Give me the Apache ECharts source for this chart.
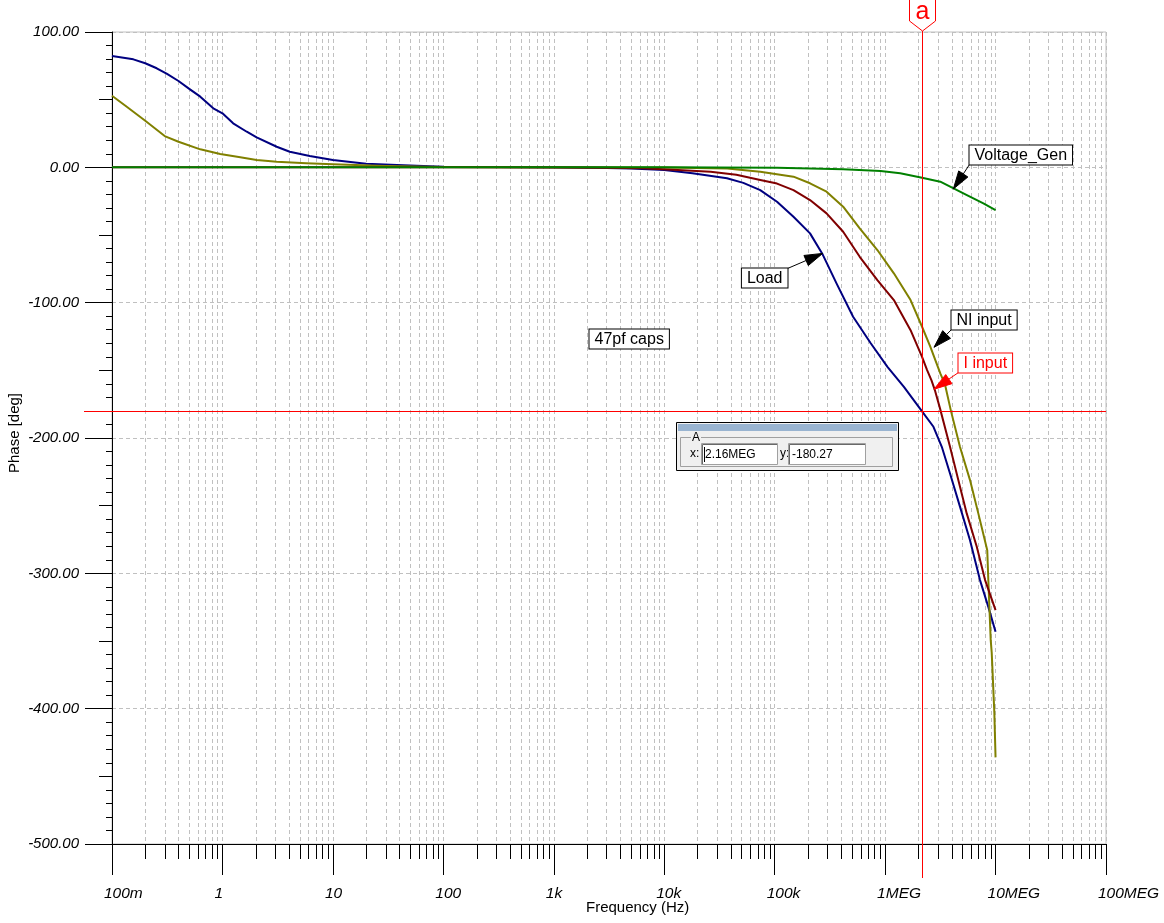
<!DOCTYPE html>
<html><head><meta charset="utf-8">
<script src="https://cdn.jsdelivr.net/npm/echarts/dist/echarts.min.js"></script>
<style>html,body{margin:0;padding:0;background:#fff;} #c{width:1164px;height:923px;}</style>
</head><body><div id="c"></div>
<script>
const FONT = '"Liberation Sans", Arial, sans-serif';

// ---- tick labels ----
const xTickValues = [0.1, 1, 10, 100, 1e3, 1e4, 1e5, 1e6, 1e7, 1e8];
const xTickLabels = ['100m', '1', '10', '100', '1k', '10k', '100k', '1MEG', '10MEG', '100MEG'];

// ---- series: Load (blue) ----
const loadFreq  = [0.1, 0.156, 0.2, 0.254, 0.315, 0.4, 0.508, 0.63, 0.826, 1, 1.25, 1.66, 2.04, 3.1, 4.07, 6.17, 10, 20, 38, 100, 300, 1000, 3000, 5000, 1e4, 1.8e4, 3.7e4, 5.2e4, 7.4e4, 1.05e5, 1.48e5, 2.09e5, 2.69e5, 3.63e5, 5.13e5, 7.41e5, 1.05e6, 1.48e6, 2.16e6, 2.74e6, 3.26e6, 3.87e6, 4.77e6, 5.87e6, 7.23e6, 8.6e6, 1e7];
const loadPhase = [82.3, 79.8, 76.9, 73.2, 69, 63.8, 57.6, 52.2, 43.6, 39.9, 32.5, 26.3, 22.2, 15.2, 11.5, 8.4, 5.4, 2.7, 1.7, 0.5, 0.2, 0, -0.5, -0.9, -2.0, -4.4, -8.1, -11.5, -16.8, -25.4, -36.5, -48.8, -63.6, -85.7, -110.4, -130, -147.4, -162.2, -180.27, -191.7, -206.5, -226.2, -250.9, -275.5, -305, -324.8, -343.2];

// ---- series: I input (maroon) ----
const iinFreq  = [0.1, 100, 1000, 3000, 6400, 1.2e4, 2.63e4, 4.5e4, 7.41e4, 1.05e5, 1.48e5, 2.09e5, 2.95e5, 4.17e5, 5.89e5, 8.51e5, 1.2e6, 1.7e6, 2.16e6, 2.4e6, 2.63e6, 2.82e6, 3.14e6, 3.87e6, 4.6e6, 5.48e6, 6.76e6, 8.04e6, 1e7];
const iinPhase = [0, 0, -0.1, -0.4, -0.7, -1.8, -3.2, -5.5, -9.4, -12, -16.8, -24.2, -34, -47.6, -66.1, -83.3, -98.1, -120.3, -140, -149.8, -157.4, -164.6, -178.1, -206.5, -231.1, -255.7, -280.4, -305, -327.2];

// ---- series: NI input (olive) ----
const niFreq  = [0.1, 0.136, 0.2, 0.3, 0.4, 0.63, 0.955, 1.45, 2.04, 3.1, 5.75, 10, 30, 100, 1000, 1e4, 3.72e4, 7.41e4, 1.48e5, 2.09e5, 2.95e5, 4.17e5, 5.89e5, 8.51e5, 1.2e6, 1.7e6, 2.16e6, 2.57e6, 3.16e6, 3.49e6, 3.93e6, 4.76e6, 5.87e6, 6.98e6, 8.41e6, 8.6e6, 9.04e6, 9.23e6, 9.75e6, 1e7];
const niPhase = [52.9, 44.8, 34.4, 23.1, 18.9, 13.3, 9.8, 7.4, 5.4, 4.1, 3, 2.2, 1, 0.3, 0, -0.2, -0.8, -3.2, -6.9, -11.8, -18, -29.1, -45.1, -61.1, -78.3, -98.1, -117.8, -132.6, -152.3, -160.6, -179.4, -206.5, -231.1, -255.7, -282.9, -305, -349.4, -358.6, -403, -436];

// ---- series: Voltage_Gen (green) ----
const vgFreq  = [0.1, 1e4, 3e4, 1.05e5, 4.17e5, 9.1e5, 1.37e6, 2.16e6, 3.16e6, 4.17e6, 5.5e6, 7.76e6, 1e7];
const vgPhase = [0, 0, -0.1, -0.3, -1.5, -2.7, -4.4, -7.7, -10.6, -15.5, -20.5, -26.6, -31.6];

// ---- cursor ----
const cursorFreq = 2.16e6;
const cursorPhase = -180.27;
const cursorXText = '2.16MEG';
const cursorYText = '-180.27';

// ---- annotations (text, arrow tip in data units, box anchor in data units) ----
const noteTexts = ['Voltage_Gen', 'Load', 'NI input', 'I input', '47pf caps'];
const noteTipFreq = [4.15e6, 2.72e5, 2.77e6, 2.77e6, null];
const noteTipPhase = [-16, -63.6, -133, -164, null];
const noteAnchorFreq = [5.75e6, 1.29e5, 3.93e6, 4.6e6, 2.09e3];
const noteAnchorPhase = [2.4, -74.6, -119.7, -151.5, -119.7];
const noteCorner = ['bl', 'tr', 'bl', 'bl', 'tl'];
const noteColor = ['#000', '#000', '#000', '#f00', '#000'];

// minor log positions (2..9 x 10^k) for grid/ticks
const minorFreqs = [];
for (let k = -1; k < 8; k++) for (let m = 2; m <= 9; m++) minorFreqs.push(m * Math.pow(10, k));

const pair = (fs, ps) => fs.map((f, i) => [f, ps[i]]);

const chart = echarts.init(document.getElementById('c'), null, {renderer: 'canvas'});

const lineSeries = (name, fs, ps, color, z) => ({
  type: 'line', name, data: pair(fs, ps), showSymbol: false, symbol: 'none', z,
  lineStyle: {color, width: 2, join: 'round'}, itemStyle: {color}
});

const loadS = lineSeries('Load', loadFreq, loadPhase, '#000080', 3);
// cursor crosshair (horizontal part inside the plot)
loadS.markLine = {
  silent: true, symbol: ['none', 'none'], animation: false, z: 20,
  label: {show: false},
  lineStyle: {color: '#ff0000', width: 1, type: 'solid'},
  emphasis: {disabled: true},
  data: [{yAxis: cursorPhase}]
};

const option = {
  animation: false,
  backgroundColor: '#fff',
  textStyle: {fontFamily: FONT},
  grid: {left: 112, right: 58, top: 32, bottom: 79, show: true, borderColor: '#c0c0c0', borderWidth: 1, backgroundColor: 'transparent', containLabel: false, outerBoundsMode: 'none'},
  xAxis: [{
    type: 'log', logBase: 10, min: 0.1, max: 1e8,
    axisLine: {onZero: false, lineStyle: {color: '#000', width: 1}},
    axisTick: {show: true, length: 31, inside: false, lineStyle: {color: '#000', width: 1}},
    axisLabel: {show: false},
    splitLine: {show: true, lineStyle: {color: '#c0c0c0', type: [4, 3], width: 1}},
    minorTick: {show: false}, minorSplitLine: {show: false}
  }],
  yAxis: [{
    type: 'value', min: -500, max: 100, interval: 100, position: 'left',
    axisLine: {show: true, onZero: false, lineStyle: {color: '#000', width: 1}},
    axisTick: {show: true, length: 27, inside: false, lineStyle: {color: '#000', width: 1}},
    axisLabel: {formatter: v => v.toFixed(2), fontStyle: 'italic', fontSize: 15, fontFamily: FONT, color: '#000', margin: 33},
    splitLine: {show: true, lineStyle: {color: '#c0c0c0', type: [4, 3], width: 1}}
  }, {
    type: 'value', min: -500, max: 100, interval: 50, position: 'left', offset: 0,
    axisLine: {show: false, onZero: false},
    axisTick: {show: true, length: 13, inside: false, lineStyle: {color: '#000', width: 1}},
    minorTick: {show: true, splitNumber: 5, length: 6, lineStyle: {color: '#000', width: 1}},
    axisLabel: {show: false}, splitLine: {show: false}
  }],
  series: [
    {
      type: 'custom', name: 'minorGrid', silent: true, clip: false, z: 1,
      data: minorFreqs.map(f => [f, 0]),
      encode: {x: 0, y: 1},
      renderItem: (params, api) => {
        const f = api.value(0);
        const t = api.coord([f, 100]);
        const b = api.coord([f, -500]);
        const x = Math.round(t[0]) + 0.5;
        return {type: 'group', children: [
          {type: 'line', shape: {x1: x, y1: t[1], x2: x, y2: b[1]}, style: {stroke: '#c0c0c0', lineWidth: 1, lineDash: [4, 3]}},
          {type: 'line', shape: {x1: x, y1: b[1], x2: x, y2: b[1] + 15}, style: {stroke: '#000', lineWidth: 1}}
        ]};
      }
    },
    {
      type: 'custom', name: 'xLabels', silent: true, clip: false, z: 1,
      data: xTickValues.map((f, i) => [f, -500, i]),
      encode: {x: 0, y: 1},
      renderItem: (params, api) => {
        const p = api.coord([api.value(0), -500]);
        return {type: 'text', x: p[0] - 8, y: p[1] + 50,
          style: {text: xTickLabels[api.value(2)], font: 'italic 15.5px ' + FONT, fill: '#000', align: 'left', verticalAlign: 'middle'}};
      }
    },
    loadS,
    lineSeries('NI input', niFreq, niPhase, '#808000', 3),
    lineSeries('I input', iinFreq, iinPhase, '#800000', 3),
    lineSeries('Voltage_Gen', vgFreq, vgPhase, '#008000', 4)
  ]
};
chart.setOption(option);

function buildGraphics() {
  const toPx = p => chart.convertToPixel({seriesIndex: 2}, p);
  const g = [];
  const gridLeft = 112, gridBottom = 923 - 79;
  const top = toPx([1, 100])[1], bot = toPx([1, -500])[1];
  // axis names
  g.push({type: 'text', z: 50, style: {text: 'Frequency (Hz)', x: 586, y: 908, font: '15px ' + FONT, fill: '#000', verticalAlign: 'middle', align: 'left'}});
  g.push({type: 'text', z: 50, x: 15, y: (top + bot) / 2 - 5, rotation: Math.PI / 2, style: {text: 'Phase [deg]', x: 0, y: 0, font: '15px ' + FONT, fill: '#000', verticalAlign: 'middle', align: 'center'}});

  // annotations
  for (let i = 0; i < noteTexts.length; i++) {
    const a = toPx([noteAnchorFreq[i], noteAnchorPhase[i]]);
    const ax = Math.round(a[0]) + 0.5, ay = Math.round(a[1]) + 0.5;
    const c = noteCorner[i];
    const col = noteColor[i];
    g.push({type: 'text', z: 120, style: {
      text: noteTexts[i], x: ax, y: ay, font: '16px ' + FONT, fill: col,
      align: c[1] === 'l' ? 'left' : 'right', verticalAlign: c[0] === 't' ? 'top' : 'bottom',
      backgroundColor: '#fff', borderColor: col, borderWidth: 1, padding: [2, 5, 1, 5]
    }});
    if (noteTipFreq[i] != null) {
      const t = toPx([noteTipFreq[i], noteTipPhase[i]]);
      const dx = t[0] - ax, dy = t[1] - ay, len = Math.hypot(dx, dy);
      const ux = dx / len, uy = dy / len, L = 18, w = 5.5;
      const bx = t[0] - ux * L, by = t[1] - uy * L;
      g.push({type: 'line', z: 119, shape: {x1: ax, y1: ay, x2: bx, y2: by}, style: {stroke: col, lineWidth: 1}});
      g.push({type: 'polygon', z: 119, shape: {points: [[t[0], t[1]], [bx - uy * w, by + ux * w], [bx + uy * w, by - ux * w]]}, style: {fill: col, stroke: col, lineWidth: 1}});
    }
  }

  // cursor lines
  const cxi = Math.round(toPx([cursorFreq, 0])[0]);
  const cyi = Math.round(toPx([1, cursorPhase])[1]);
  const cx = cxi + 0.5;
  g.push({type: 'rect', z: 110, shape: {x: cxi, y: 31, width: 1, height: gridBottom + 34 - 31}, style: {fill: '#ff0000', stroke: null}});
  g.push({type: 'rect', z: 110, shape: {x: 84, y: cyi, width: gridLeft - 84, height: 1}, style: {fill: '#ff0000', stroke: null}});
  // cursor marker "a"
  g.push({type: 'polygon', z: 111, shape: {points: [[cx - 13, -1], [cx + 13, -1], [cx + 13, 21], [cx, 31], [cx - 13, 21]]}, style: {fill: '#fff', stroke: '#ff0000', lineWidth: 1}});
  g.push({type: 'text', z: 112, style: {text: 'a', x: cx, y: 12, font: '25px ' + FONT, fill: '#ff0000', align: 'center', verticalAlign: 'middle'}});

  // readout widget
  const X = 676, Y = 422, W = 222, H = 48;
  const sm = '12px ' + FONT;
  g.push({type: 'rect', z: 130, shape: {x: X + 0.5, y: Y + 0.5, width: W, height: H}, style: {fill: '#f0f0f0', stroke: '#000', lineWidth: 1}});
  g.push({type: 'rect', z: 131, shape: {x: X + 2, y: Y + 2, width: W - 3, height: 7}, style: {fill: '#99b4d1'}});
  g.push({type: 'rect', z: 131, shape: {x: X + 4.5, y: Y + 15.5, width: W - 10, height: 29}, style: {fill: null, stroke: '#a0a0a0', lineWidth: 1}});
  g.push({type: 'text', z: 132, style: {text: 'A', x: X + 15, y: Y + 16, font: sm, fill: '#000', backgroundColor: '#f0f0f0', verticalAlign: 'middle', padding: [0, 1, 0, 1]}});
  g.push({type: 'text', z: 132, style: {text: 'x:', x: X + 14, y: Y + 32, font: sm, fill: '#000', verticalAlign: 'middle'}});
  g.push({type: 'rect', z: 132, shape: {x: X + 25.5, y: Y + 21.5, width: 76, height: 21}, style: {fill: '#fff', stroke: '#a0a0a0', lineWidth: 1}});
  g.push({type: 'line', z: 133, shape: {x1: X + 26.5, y1: Y + 22.5, x2: X + 101, y2: Y + 22.5}, style: {stroke: '#696969', lineWidth: 1}});
  g.push({type: 'line', z: 133, shape: {x1: X + 26.5, y1: Y + 22.5, x2: X + 26.5, y2: Y + 42}, style: {stroke: '#696969', lineWidth: 1}});
  g.push({type: 'line', z: 133, shape: {x1: X + 28.5, y1: Y + 25, x2: X + 28.5, y2: Y + 40}, style: {stroke: '#000', lineWidth: 1}});
  g.push({type: 'text', z: 133, style: {text: cursorXText, x: X + 29, y: Y + 32.5, font: sm, fill: '#000', verticalAlign: 'middle'}});
  g.push({type: 'text', z: 132, style: {text: 'y:', x: X + 104, y: Y + 32, font: sm, fill: '#000', verticalAlign: 'middle'}});
  g.push({type: 'rect', z: 132, shape: {x: X + 112.5, y: Y + 21.5, width: 77, height: 21}, style: {fill: '#fff', stroke: '#a0a0a0', lineWidth: 1}});
  g.push({type: 'line', z: 133, shape: {x1: X + 113.5, y1: Y + 22.5, x2: X + 189, y2: Y + 22.5}, style: {stroke: '#696969', lineWidth: 1}});
  g.push({type: 'line', z: 133, shape: {x1: X + 113.5, y1: Y + 22.5, x2: X + 113.5, y2: Y + 42}, style: {stroke: '#696969', lineWidth: 1}});
  g.push({type: 'text', z: 133, style: {text: cursorYText, x: X + 116, y: Y + 32.5, font: sm, fill: '#000', verticalAlign: 'middle'}});
  return g;
}
chart.setOption({graphic: buildGraphics()});
</script>
</body></html>
